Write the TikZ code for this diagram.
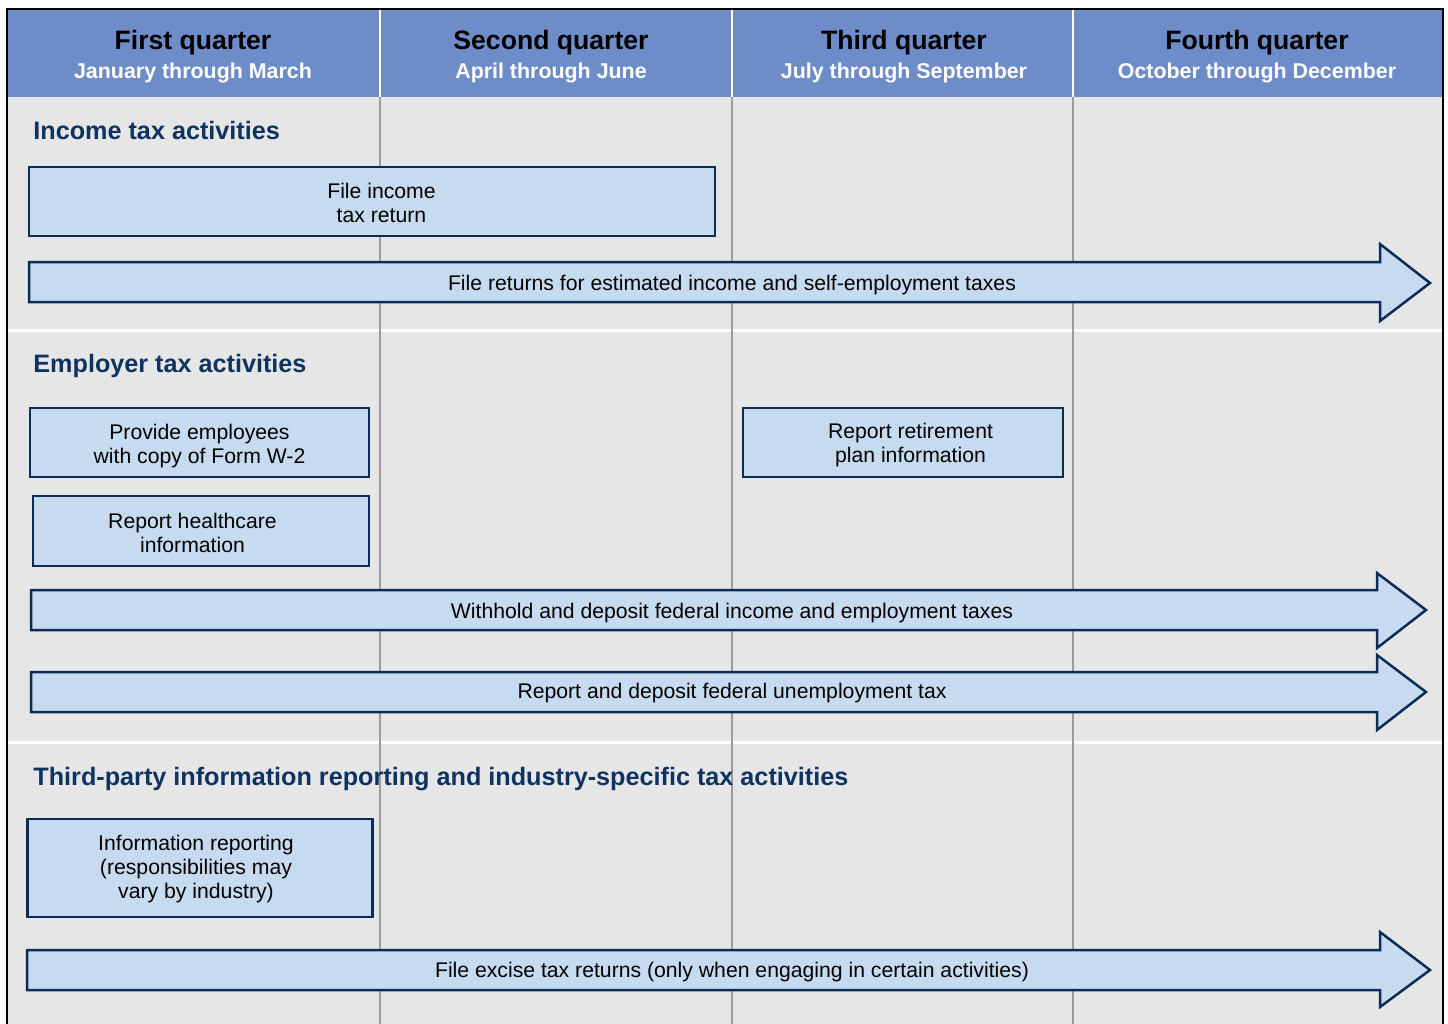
\documentclass[tikz,border=0pt]{standalone}
\usepackage{fontspec}
\setmainfont{Liberation Sans}
\definecolor{hdrblue}{HTML}{6E8DC8}
\definecolor{bodygray}{HTML}{E6E6E6}
\definecolor{boxblue}{HTML}{C6DBF0}
\definecolor{navy}{HTML}{0C2C58}
\definecolor{headnavy}{HTML}{0F3360}
\definecolor{divgray}{HTML}{9B9B9B}
\tikzset{
  qtitle/.style={font=\fontsize{13.3}{15}\selectfont\bfseries, text=black, anchor=base},
  qsub/.style={font=\fontsize{10.7}{13}\selectfont\bfseries, text=white, anchor=base},
  sechead/.style={font=\fontsize{12.6}{15}\selectfont\bfseries, text=headnavy, anchor=base west, inner sep=0pt},
  taskbox/.style={draw=navy, fill=boxblue, line width=1.25pt, inner sep=0pt},
  tasktext/.style={align=center, anchor=base, inner sep=0pt, font=\fontsize{10.6}{11.9}\selectfont},
  arrowshape/.style={draw=navy, fill=boxblue, line width=1.25pt, line join=miter},
  arrowtext/.style={font=\fontsize{10.6}{12}\selectfont, inner sep=0pt, anchor=base},
}
\begin{document}
\begin{tikzpicture}[x=0.5pt,y=-0.5pt]
\useasboundingbox (0,0) rectangle (1448,1024);
\fill[white] (0,0) rectangle (1448,1024);
\fill[bodygray] (7,97) rectangle (1443,1024);
\fill[hdrblue] (7,9) rectangle (1443,97);
% separators
\draw[white, line width=1.5pt] (7,330) -- (1443,330);
\draw[white, line width=1.5pt] (7,742) -- (1443,742);
% column dividers
\foreach \xx in {380,732,1073} {
  \draw[divgray, line width=1pt] (\xx,97) -- (\xx,1024);
  \draw[white, line width=1pt] (\xx,9) -- (\xx,97);
}
% frame
\draw[black, line width=0.9pt] (7,1024) -- (7,9) -- (1443,9) -- (1443,1024);

% headers
\node[qtitle] (q1t) at (193,49) {First quarter};
\node[qsub] (q1s) at (193,78) {January through March};
\node[qtitle] (q2t) at (551,49) {Second quarter};
\node[qsub] (q2s) at (551,78) {April through June};
\node[qtitle] (q3t) at (904,49) {Third quarter};
\node[qsub] (q3s) at (904,78) {July through September};
\node[qtitle] (q4t) at (1257,49) {Fourth quarter};
\node[qsub] (q4s) at (1257,78) {October through December};

% section headings
\node[sechead] (s1) at (33,139) {Income tax activities};
\node[sechead] (s2) at (33,372) {Employer tax activities};
\node[sechead] (s3) at (33,785) {Third-party information reporting and industry-specific tax activities};

% boxes (text anchored at the baseline of its last line)
\node[taskbox, minimum width=343pt, minimum height=34.5pt] (itr) at (372,201.5) {};
\node[tasktext] (itr-t) at (381.5,222) {File income\\tax return};
\node[taskbox, minimum width=169.5pt, minimum height=34.5pt] (w2) at (199.5,442.5) {};
\node[tasktext] (w2-t) at (199.5,463) {Provide employees\\with copy of Form W-2};
\node[taskbox, minimum width=168pt, minimum height=35pt] (hc) at (201,531) {};
\node[tasktext] (hc-t) at (192.5,552) {Report healthcare\\information};
\node[taskbox, minimum width=160pt, minimum height=34.5pt] (ret) at (903,442.5) {};
\node[tasktext] (ret-t) at (910.5,462) {Report retirement\\plan information};
\node[taskbox, minimum width=172.5pt, minimum height=49pt] (info) at (200,868) {};
\node[tasktext] (info-t) at (196,898) {Information reporting\\(responsibilities may\\vary by industry)};

% arrows
\draw[arrowshape] (29,262) -- (1380,262) -- (1380,244) -- (1430,283) -- (1380,321) -- (1380,302) -- (29,302) -- cycle;
\node[arrowtext] (a1) at (732,290) {File returns for estimated income and self-employment taxes};

\draw[arrowshape] (31,590) -- (1377,590) -- (1377,573) -- (1426,610) -- (1377,648) -- (1377,630) -- (31,630) -- cycle;
\node[arrowtext] (a2) at (732,618) {Withhold and deposit federal income and employment taxes};

\draw[arrowshape] (31,672) -- (1377,672) -- (1377,655) -- (1426,692) -- (1377,730) -- (1377,712) -- (31,712) -- cycle;
\node[arrowtext] (a3) at (732,698) {Report and deposit federal unemployment tax};

\draw[arrowshape] (27,950) -- (1380,950) -- (1380,932) -- (1430,970) -- (1380,1007) -- (1380,990) -- (27,990) -- cycle;
\node[arrowtext] (a4) at (732,977) {File excise tax returns (only when engaging in certain activities)};
\end{tikzpicture}
\end{document}
